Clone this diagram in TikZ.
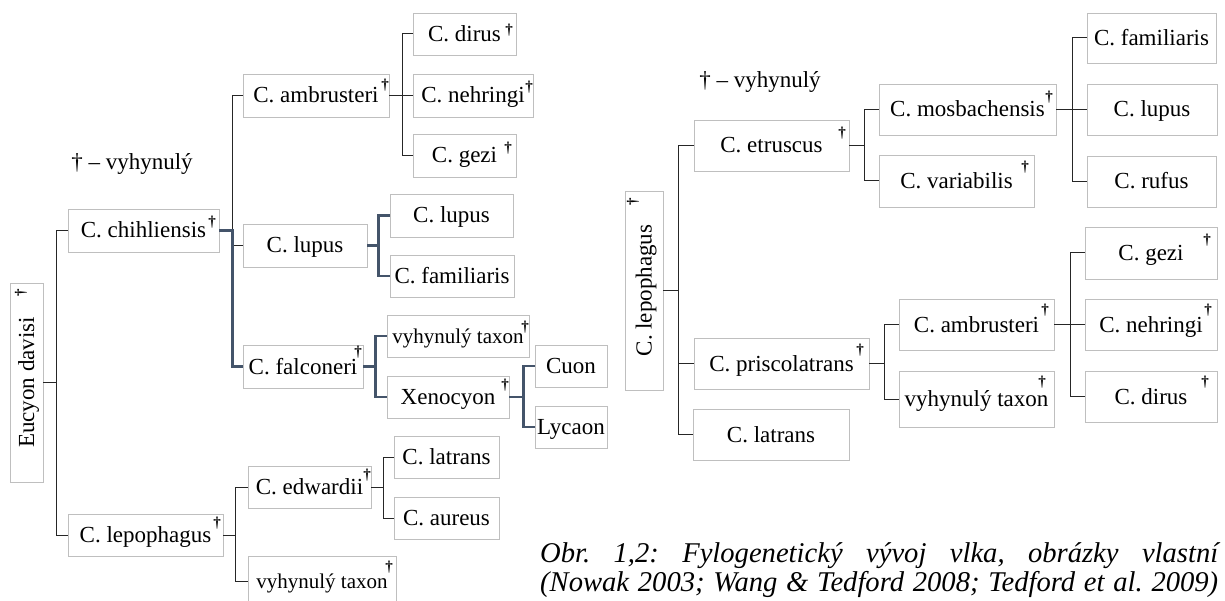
\documentclass[tikz,border=0pt]{standalone}
\usepackage{fontspec}
\setmainfont{Liberation Serif}
\usetikzlibrary{shadows}
\frenchspacing
\definecolor{thickc}{HTML}{44546A}
\tikzset{
  bx/.style={draw=gray!50, line width=0.9pt, fill=white, inner sep=0pt,
    font=\fontsize{23}{26}\selectfont, text height=15pt, text depth=0pt,
    general shadow={fill=gray!65, shadow xshift=1.3pt, shadow yshift=-1.3pt}},
  sm/.style={font=\fontsize{21}{24}\selectfont},
  dg/.style={font=\fontsize{15}{15}\selectfont\bfseries, inner sep=0pt},
  lg/.style={font=\fontsize{23}{26}\selectfont, inner sep=0pt},
  captxt/.style={font=\fontsize{28.6}{30}\selectfont\itshape, inner sep=0pt},
  ln/.style={draw=black!85, line width=1pt},
  thk/.style={draw=thickc, line width=2.6pt},
}
\newcommand\bx[7][]{\node[bx,#1, minimum width={#5pt-#3pt}, minimum height={#6pt-#4pt}] (#2) at ({(#3+#5)/2},{(#4+#6)/2}) {#7};}
\begin{document}
\begin{tikzpicture}[x=1pt,y=-1pt]
\useasboundingbox (0,0) rectangle (1225,601);
\clip (0,0) rectangle (1225,601);
% ---------------- left tree ----------------
\node[bx, rotate=90, minimum width=199pt, minimum height=33pt] (ed) at (26.5,382.5) {Eucyon davisi};
\bx{ch}{68}{209}{219}{252}{C. chihliensis}
\bx{lp}{68}{514}{223}{556}{C. lepophagus}
\bx{am}{243}{74}{389}{117}{C. ambrusteri}
\bx{di}{413}{13}{516}{55}{C. dirus}
\bx{ne}{413}{74}{533}{117}{C. nehringi}
\bx{gz}{413}{134}{516}{177}{C. gezi}
\bx{lu}{243}{224}{367}{267}{C. lupus}
\bx{lub}{390}{194}{513}{237}{C. lupus}
\bx{fa}{390}{255}{514}{297}{C. familiaris}
\bx{fc}{243}{345}{363}{388}{C. falconeri}
\bx[sm]{vta}{387}{315}{529}{357}{vyhynulý taxon}
\bx{xe}{387}{376}{509}{418}{Xenocyon}
\bx{cu}{535}{345}{607}{387}{Cuon}
\bx{ly}{535}{406}{607}{448}{Lycaon}
\bx{ew}{248}{466}{371}{508}{C. edwardii}
\bx{la}{394}{436}{499}{478}{C. latrans}
\bx{au}{394}{497}{499}{539}{C. aureus}
\bx[sm]{vtb}{248}{556}{396}{606}{vyhynulý taxon}
% daggers left
\node[dg, rotate=90] (d1) at (21,293) {†};
\node[dg] (d2) at (212,222) {†};
\node[dg] (d3) at (217,523) {†};
\node[dg] (d4) at (385,85) {†};
\node[dg] (d5) at (509,30) {†};
\node[dg] (d6) at (529,87) {†};
\node[dg] (d7) at (508,148) {†};
\node[dg] (d8) at (358,352) {†};
\node[dg] (d9) at (525,327) {†};
\node[dg] (d10) at (505,385) {†};
\node[dg] (d11) at (367,475) {†};
\node[dg] (d12) at (389,567) {†};
\node[lg] (lg1) at (132,164) {† – vyhynulý};
% connectors left
\draw[ln] (ed.south) -- ++(13,0) coordinate (j1) |- (ch.west);
\draw[ln] (j1) |- (lp.west);
\path (ch.east) -- ++(13,0) coordinate (j2);
\draw[ln] (j2) |- (am.west);
\draw[ln] (j2) |- (lu.west);
\draw[thk] (ch.east) -- (j2) |- (fc.west);
\draw[ln] (am.east) -- ++(13,0) coordinate (j3) |- (di.west);
\draw[ln] (j3) |- (ne.west);
\draw[ln] (j3) |- (gz.west);
\draw[thk] (lu.east) -- ++(11,0) coordinate (j4) |- (lub.west);
\draw[thk] (j4) |- (fa.west);
\draw[thk] (fc.east) -- ++(12,0) coordinate (j5) |- (vta.west);
\draw[thk] (j5) |- (xe.west);
\draw[thk] (xe.east) -- ++(14,0) coordinate (j6) |- (cu.west);
\draw[thk] (j6) |- (ly.west);
\draw[ln] (lp.east) -- ++(12,0) coordinate (j7) |- (ew.west);
\draw[ln] (j7) |- (vtb.west);
\draw[ln] (ew.east) -- ++(12,0) coordinate (j8) |- (la.west);
\draw[ln] (j8) |- (au.west);
% ---------------- right tree ----------------
\node[bx, rotate=90, minimum width=199pt, minimum height=38pt] (rlp) at (644,290.5) {C. lepophagus};
\bx{et}{694}{120}{849}{171}{C. etruscus}
\bx{pr}{694}{338}{869}{389}{C. priscolatrans}
\bx{rla}{693}{409}{849}{460}{C. latrans}
\bx{mo}{879}{84}{1056}{135}{C. mosbachensis}
\bx{va}{879}{155}{1034}{207}{C. variabilis}
\bx{rfa}{1087}{13}{1216}{63}{C. familiaris}
\bx{rlu}{1087}{84}{1217}{135}{C. lupus}
\bx{ru}{1087}{156}{1216}{207}{C. rufus}
\bx{ram}{899}{299}{1054}{350}{C. ambrusteri}
\bx{rvt}{899}{371}{1054}{427}{vyhynulý taxon}
\bx{rgz}{1085}{227}{1217}{279}{C. gezi}
\bx{rne}{1085}{299}{1217}{350}{C. nehringi}
\bx{rdi}{1085}{371}{1217}{422}{C. dirus}
% daggers right
\node[dg, rotate=90] (e1) at (633,202) {†};
\node[dg] (e2) at (842,133) {†};
\node[dg] (e3) at (860,350) {†};
\node[dg] (e4) at (1049,97) {†};
\node[dg] (e5) at (1025,167) {†};
\node[dg] (e6) at (1045,310) {†};
\node[dg] (e7) at (1042,382) {†};
\node[dg] (e8) at (1207,240) {†};
\node[dg] (e9) at (1208,310) {†};
\node[dg] (e10) at (1205,382) {†};
\node[lg] (lg2) at (760,82) {† – vyhynulý};
% connectors right
\draw[ln] (rlp.south) -- ++(15,0) coordinate (k1) |- (et.west);
\draw[ln] (k1) |- (pr.west);
\draw[ln] (k1) |- (rla.west);
\draw[ln] (et.east) -- ++(15,0) coordinate (k2) |- (mo.west);
\draw[ln] (k2) |- (va.west);
\draw[ln] (mo.east) -- ++(16,0) coordinate (k3) |- (rfa.west);
\draw[ln] (k3) |- (rlu.west);
\draw[ln] (k3) |- (ru.west);
\draw[ln] (pr.east) -- ++(15,0) coordinate (k4) |- (ram.west);
\draw[ln] (k4) |- (rvt.west);
\draw[ln] (ram.east) -- ++(16,0) coordinate (k5) |- (rgz.west);
\draw[ln] (k5) |- (rne.west);
\draw[ln] (k5) |- (rdi.west);
% caption
\node[captxt, anchor=base west] (c1) at (540,562) {\makebox[678pt][s]{Obr. 1,2: Fylogenetický vývoj vlka, obrázky vlastní}};
\node[captxt, anchor=base west] (c2) at (540,591) {\makebox[678pt][s]{(Nowak 2003; Wang \& Tedford 2008; Tedford et al. 2009)}};
\end{tikzpicture}
\end{document}
